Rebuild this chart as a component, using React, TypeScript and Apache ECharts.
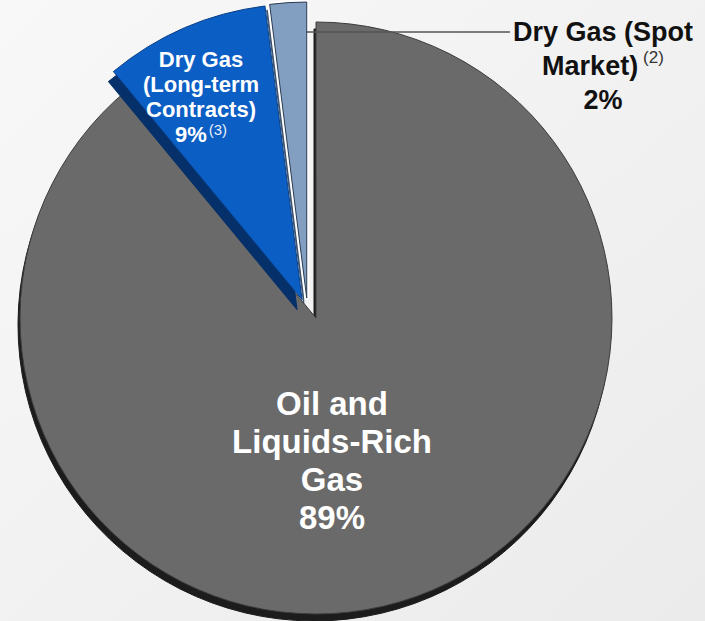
import React, { useEffect, useRef } from 'react';
import * as echarts from 'echarts';

const categories = ['Oil and\nLiquids-Rich\nGas', 'Dry Gas\n(Long-term\nContracts)', 'Dry Gas (Spot\nMarket)'];
const shares = [89, 9, 2];
const footnotes = ['', '(3)', '(2)'];
const explodeOffsets = [0, 20, 20];
const sliceNudges = [[0, 0], [-6, 0], [-8, 0]];
const sideShifts = [[-2, 7], [-5, 10], [-3, 6]];
const topColors = ['#6a6a6a', '#0b5ec4', '#829fc2'];
const sideColors = ['#1c1c1c', '#06306a', '#3a5270'];
const outlineColors = ['#3c3c3c', '#0a3f86', '#2a3a50'];
const haloWidths = [0, 0, 5];

export default function App() {
  const ref = useRef<HTMLDivElement>(null);
  useEffect(() => {
    document.body.style.margin = '0';
    const chart = echarts.init(ref.current!, null, { renderer: 'svg' });
    const font = '"Liberation Sans", Arial, Helvetica, sans-serif';
    const center = [316, 318];
    const radius = 296;
    const labelPos = [
      { x: 332, y: 460 },
      { x: 201, y: 97 },
      { x: 603, y: 66 },
    ];
    const leaderY = 32;
    // drawing order: [side z, top z] per slice
    const zOrder = [[1, 2], [3, 4], [1, 6]];

    const richStyles: any = {
      big: { fontFamily: font, fontSize: 33, lineHeight: 38, fontWeight: 'bold', color: '#ffffff', align: 'center' },
      mid: { fontFamily: font, fontSize: 22, lineHeight: 25, fontWeight: 'bold', color: '#ffffff', align: 'center' },
      midSup: { fontFamily: font, fontSize: 15, lineHeight: 25, color: '#e8eef8', padding: [0, 0, 8, 2], verticalAlign: 'top' },
      out: { fontFamily: font, fontSize: 27, lineHeight: 34, fontWeight: 'bold', color: '#111111', align: 'center' },
      outSup: { fontFamily: font, fontSize: 17, lineHeight: 34, color: '#333333', padding: [0, 0, 10, 5], verticalAlign: 'top' },
    };
    const styleKey = ['big', 'mid', 'out'];

    const fmt = (p: any) => {
      const i = p.dataIndex;
      const k = styleKey[i];
      const lines = categories[i].split('\n').map((s) => `{${k}|${s}}`);
      const pct = `{${k}|${shares[i]}%}`;
      if (i === 2) {
        lines[lines.length - 1] += `{outSup|${footnotes[i]}}`;
        return [...lines, pct].join('\n');
      }
      if (i === 1) {
        return [...lines, pct + `{midSup|${footnotes[i]}}`].join('\n');
      }
      return [...lines, pct].join('\n');
    };

    const total = shares.reduce((a, b) => a + b, 0);
    const offsets = shares.map((s, i) => {
      const before = shares.slice(0, i).reduce((a, b) => a + b, 0);
      const mid = ((before + s / 2) / total) * Math.PI * 2;
      return [
        Math.sin(mid) * explodeOffsets[i] + sliceNudges[i][0],
        -Math.cos(mid) * explodeOffsets[i] + sliceNudges[i][1],
      ];
    });

    const makeSeries = (i: number, layer: 'side' | 'halo' | 'top') => {
      const [dx, dy] = offsets[i];
      const shift = layer === 'side' ? sideShifts[i] : [0, 0];
      const z = layer === 'side' ? zOrder[i][0] : layer === 'halo' ? 5 : zOrder[i][1];
      const withLabel = layer === 'top';
      return {
        type: 'pie',
        z,
        silent: true,
        center: [center[0] + dx + shift[0], center[1] + dy + shift[1]],
        radius: [0, radius],
        startAngle: 90,
        clockwise: true,
        avoidLabelOverlap: false,
        emphasis: { disabled: true },
        label: {
          show: false,
          position: 'inside',
          formatter: fmt,
          rich: richStyles,
        },
        labelLine: { show: false, lineStyle: { color: '#555555', width: 1.5 } },
        labelLayout: (p: any) => {
          if (p.dataIndex !== i) return {};
          const pos = labelPos[i];
          const res: any = { x: pos.x, y: pos.y, align: 'center', verticalAlign: 'middle' };
          if (i === 2) {
            const left = pos.x - p.labelRect.width / 2 - 3;
            const startX = center[0] + dx - 2;
            res.labelLinePoints = [
              [startX, leaderY],
              [(startX + left) / 2, leaderY],
              [left, leaderY],
            ];
          }
          return res;
        },
        data: categories.map((name, j) => {
          const own = j === i;
          let itemStyle: any;
          if (!own) itemStyle = { color: 'rgba(0,0,0,0)', borderWidth: 0 };
          else if (layer === 'side') itemStyle = { color: sideColors[j], borderColor: sideColors[j], borderWidth: 1 };
          else if (layer === 'halo') itemStyle = { color: '#ffffff', borderColor: '#ffffff', borderWidth: haloWidths[j] };
          else itemStyle = { color: topColors[j], borderColor: outlineColors[j], borderWidth: 1 };
          return {
            name,
            value: shares[j],
            itemStyle,
            label: { show: own && withLabel, position: j === 2 ? 'outside' : 'inside' },
            labelLine: { show: own && withLabel && j === 2 },
          };
        }),
      };
    };

    const series: any[] = [];
    shares.forEach((_, i) => series.push(makeSeries(i, 'side')));
    shares.forEach((_, i) => {
      if (haloWidths[i] > 0) series.push(makeSeries(i, 'halo'));
      series.push(makeSeries(i, 'top'));
    });

    chart.setOption({
      animation: false,
      backgroundColor: {
        type: 'linear', x: 0, y: 0, x2: 1, y2: 1,
        colorStops: [
          { offset: 0, color: '#f8f8f8' },
          { offset: 1, color: '#ebebeb' },
        ],
      },
      series,
    });
    return () => chart.dispose();
  }, []);
  return <div ref={ref} style={{ position: 'absolute', left: 0, top: 0, width: 705, height: 621 }} />;
}
